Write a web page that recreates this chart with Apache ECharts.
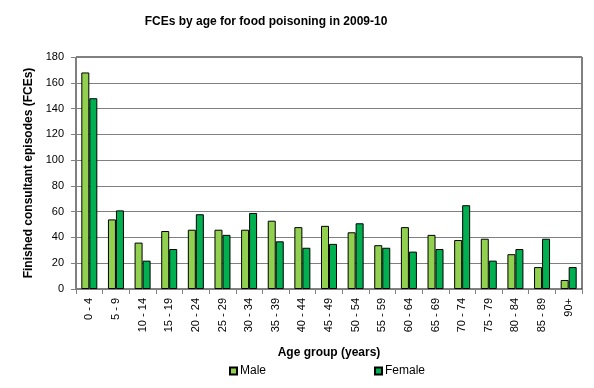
<!DOCTYPE html>
<html><head><meta charset="utf-8">
<script src="https://cdn.jsdelivr.net/npm/echarts@6/dist/echarts.min.js"></script>
<style>html,body{margin:0;padding:0;background:#fff}#c{width:594px;height:388px}</style>
</head><body><div id="c"></div>
<script>
var categories = ['0 - 4','5 - 9','10 - 14','15 - 19','20 - 24','25 - 29','30 - 34','35 - 39','40 - 44','45 - 49','50 - 54','55 - 59','60 - 64','65 - 69','70 - 74','75 - 79','80 - 84','85 - 89','90+'];
var male = [168,54,36,45,46,46,46,53,48,49,44,34,48,42,38,39,27,17,7];
var female = [148,61,22,31,58,42,59,37,32,35,51,32,29,31,65,22,31,39,17];
var yTicks = {min:0, max:180, interval:20};
var F = 'Liberation Sans, Arial, sans-serif';
var chart = echarts.init(document.getElementById('c'), null, {renderer:'canvas'});
chart.setOption({
  animation:false,
  title:{text:'FCEs by age for food poisoning in 2009-10', left:261, top:11, textAlign:'center',
    textStyle:{fontFamily:F, fontSize:12, fontWeight:'bold', color:'#000'}},
  grid:{left:76, right:12, top:57, bottom:99, show:true, borderColor:'#000', borderWidth:1},
  legend:{data:['Male','Female'], left:224, top:360, itemWidth:7, itemHeight:7, itemGap:108,
    icon:'rect', textStyle:{fontFamily:F, fontSize:12, color:'#000', padding:[0,0,0,-2]}},
  xAxis:{type:'category', data:categories,
    name:'Age group (years)', nameLocation:'middle', nameGap:58,
    nameTextStyle:{fontFamily:F, fontSize:12, fontWeight:'bold', color:'#000'},
    axisLine:{lineStyle:{color:'#808080'}},
    axisTick:{show:true, length:5, lineStyle:{color:'#808080'}},
    axisLabel:{rotate:90, fontFamily:F, fontSize:11, color:'#000', margin:9, interval:0}},
  yAxis:{type:'value', min:yTicks.min, max:yTicks.max, interval:yTicks.interval,
    name:'Finished consultant episodes (FCEs)', nameLocation:'middle', nameGap:38, nameRotate:90,
    nameTextStyle:{fontFamily:F, fontSize:12, fontWeight:'bold', color:'#000'},
    axisLine:{show:true, lineStyle:{color:'#808080'}},
    axisTick:{show:true, length:5, lineStyle:{color:'#808080'}},
    axisLabel:{fontFamily:F, fontSize:11, color:'#000', margin:12},
    splitLine:{lineStyle:{color:'#808080', width:1}}},
  series:[
    {name:'Male', type:'bar', data:male, barWidth:8, barGap:'0%',
      itemStyle:{color:'#92D050', borderColor:'#000', borderWidth:1}},
    {name:'Female', type:'bar', data:female, barWidth:8, barGap:'0%',
      itemStyle:{color:'#00B050', borderColor:'#000', borderWidth:1}}
  ]
});
</script></body></html>
